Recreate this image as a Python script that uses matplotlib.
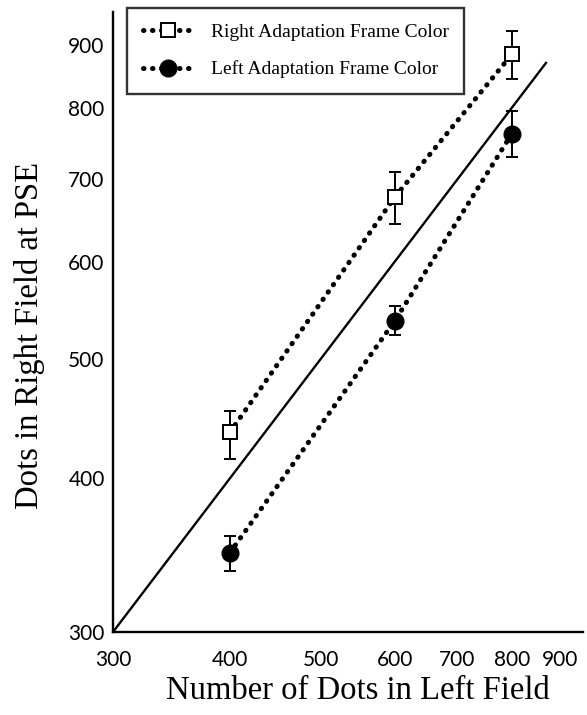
import matplotlib
matplotlib.use("Agg")
import matplotlib.pyplot as plt
from matplotlib.lines import Line2D
from matplotlib.ticker import FixedLocator, NullLocator

# ---- data ----
x_left = [400, 600, 800]
right_mean = [436, 677, 884]
right_lo = [415, 644, 845]
right_hi = [454, 710, 924]
left_mean = [348, 537, 762]
left_lo = [336, 523, 730]
left_hi = [359, 552, 795]
ref_line = [300, 870]
ticks = [300, 400, 500, 600, 700, 800, 900]
tick_labels = ["300", "400", "500", "600", "700", "800", "900"]

serif = ["Liberation Serif", "DejaVu Serif"]
tickfont = ["Lato", "DejaVu Sans"]

fig = plt.figure(figsize=(5.87, 7.15), dpi=100)
ax = fig.add_axes([113/587, 1-632/715, 470/587, 620/715])
ax.set_xscale("log")
ax.set_yscale("log")
ax.set_xlim(300, 953)
ax.set_ylim(300, 957)

dot_style = dict(color="black", lw=3.6, linestyle=(0, (0.1, 1.7)),
                 dash_capstyle="round", solid_capstyle="round")

# identity line
ax.plot(ref_line, ref_line, color="black", lw=1.7, zorder=2)

# dotted series lines
ax.plot(x_left, right_mean, zorder=2, **dot_style)
ax.plot(x_left, left_mean, zorder=2, **dot_style)

# error bars
r_err = [[m - l for m, l in zip(right_mean, right_lo)],
         [h - m for m, h in zip(right_mean, right_hi)]]
l_err = [[m - l for m, l in zip(left_mean, left_lo)],
         [h - m for m, h in zip(left_mean, left_hi)]]
ax.errorbar(x_left, right_mean, yerr=r_err, fmt="none", ecolor="black",
            elinewidth=1.4, capsize=4, capthick=1.4, zorder=3)
ax.errorbar(x_left, left_mean, yerr=l_err, fmt="none", ecolor="black",
            elinewidth=1.4, capsize=4, capthick=1.4, zorder=3)

# markers
ax.plot(x_left, right_mean, linestyle="none", marker="s", ms=10.5,
        mfc="white", mec="black", mew=1.4, zorder=5)
ax.plot(x_left, left_mean, linestyle="none", marker="o", ms=12,
        mfc="black", mec="black", zorder=5)

# axes styling
for s in ["top", "right"]:
    ax.spines[s].set_visible(False)
for s in ["left", "bottom"]:
    ax.spines[s].set_linewidth(1.7)

ax.xaxis.set_major_locator(FixedLocator(ticks))
ax.yaxis.set_major_locator(FixedLocator(ticks))
ax.xaxis.set_minor_locator(NullLocator())
ax.yaxis.set_minor_locator(NullLocator())
ax.set_xticklabels(tick_labels, family=tickfont, fontsize=15)
ax.set_yticklabels(tick_labels, family=tickfont, fontsize=15)
ax.tick_params(axis="x", length=0, pad=13)
ax.tick_params(axis="y", length=0, pad=6)

ax.set_xlabel("Number of Dots in Left Field", family=serif, fontsize=23.5, va="center")
ax.xaxis.set_label_coords(0.521, -0.094)
ax.set_ylabel("Dots in Right Field at PSE", family=serif, fontsize=23.5, va="center")
ax.yaxis.set_label_coords(-0.177, 0.479)

# legend
h1 = Line2D([], [], marker="s", ms=10.5, mfc="white", mec="black", mew=1.4, **dot_style)
h2 = Line2D([], [], marker="o", ms=12, mfc="black", mec="black", **dot_style)
leg = fig.legend([h1, h2], ["Right Adaptation Frame Color", "Left Adaptation Frame Color"],
                 loc="upper left", bbox_to_anchor=(127/587, 1-8/715),
                 prop={"family": serif, "size": 14}, frameon=True, fancybox=False,
                 edgecolor="black", handlelength=2.6, numpoints=1,
                 borderpad=0.8, labelspacing=1.0, handletextpad=0.9,
                 borderaxespad=0)
leg.get_frame().set_linewidth(1.7)

fig.savefig("out.png", dpi=100)
